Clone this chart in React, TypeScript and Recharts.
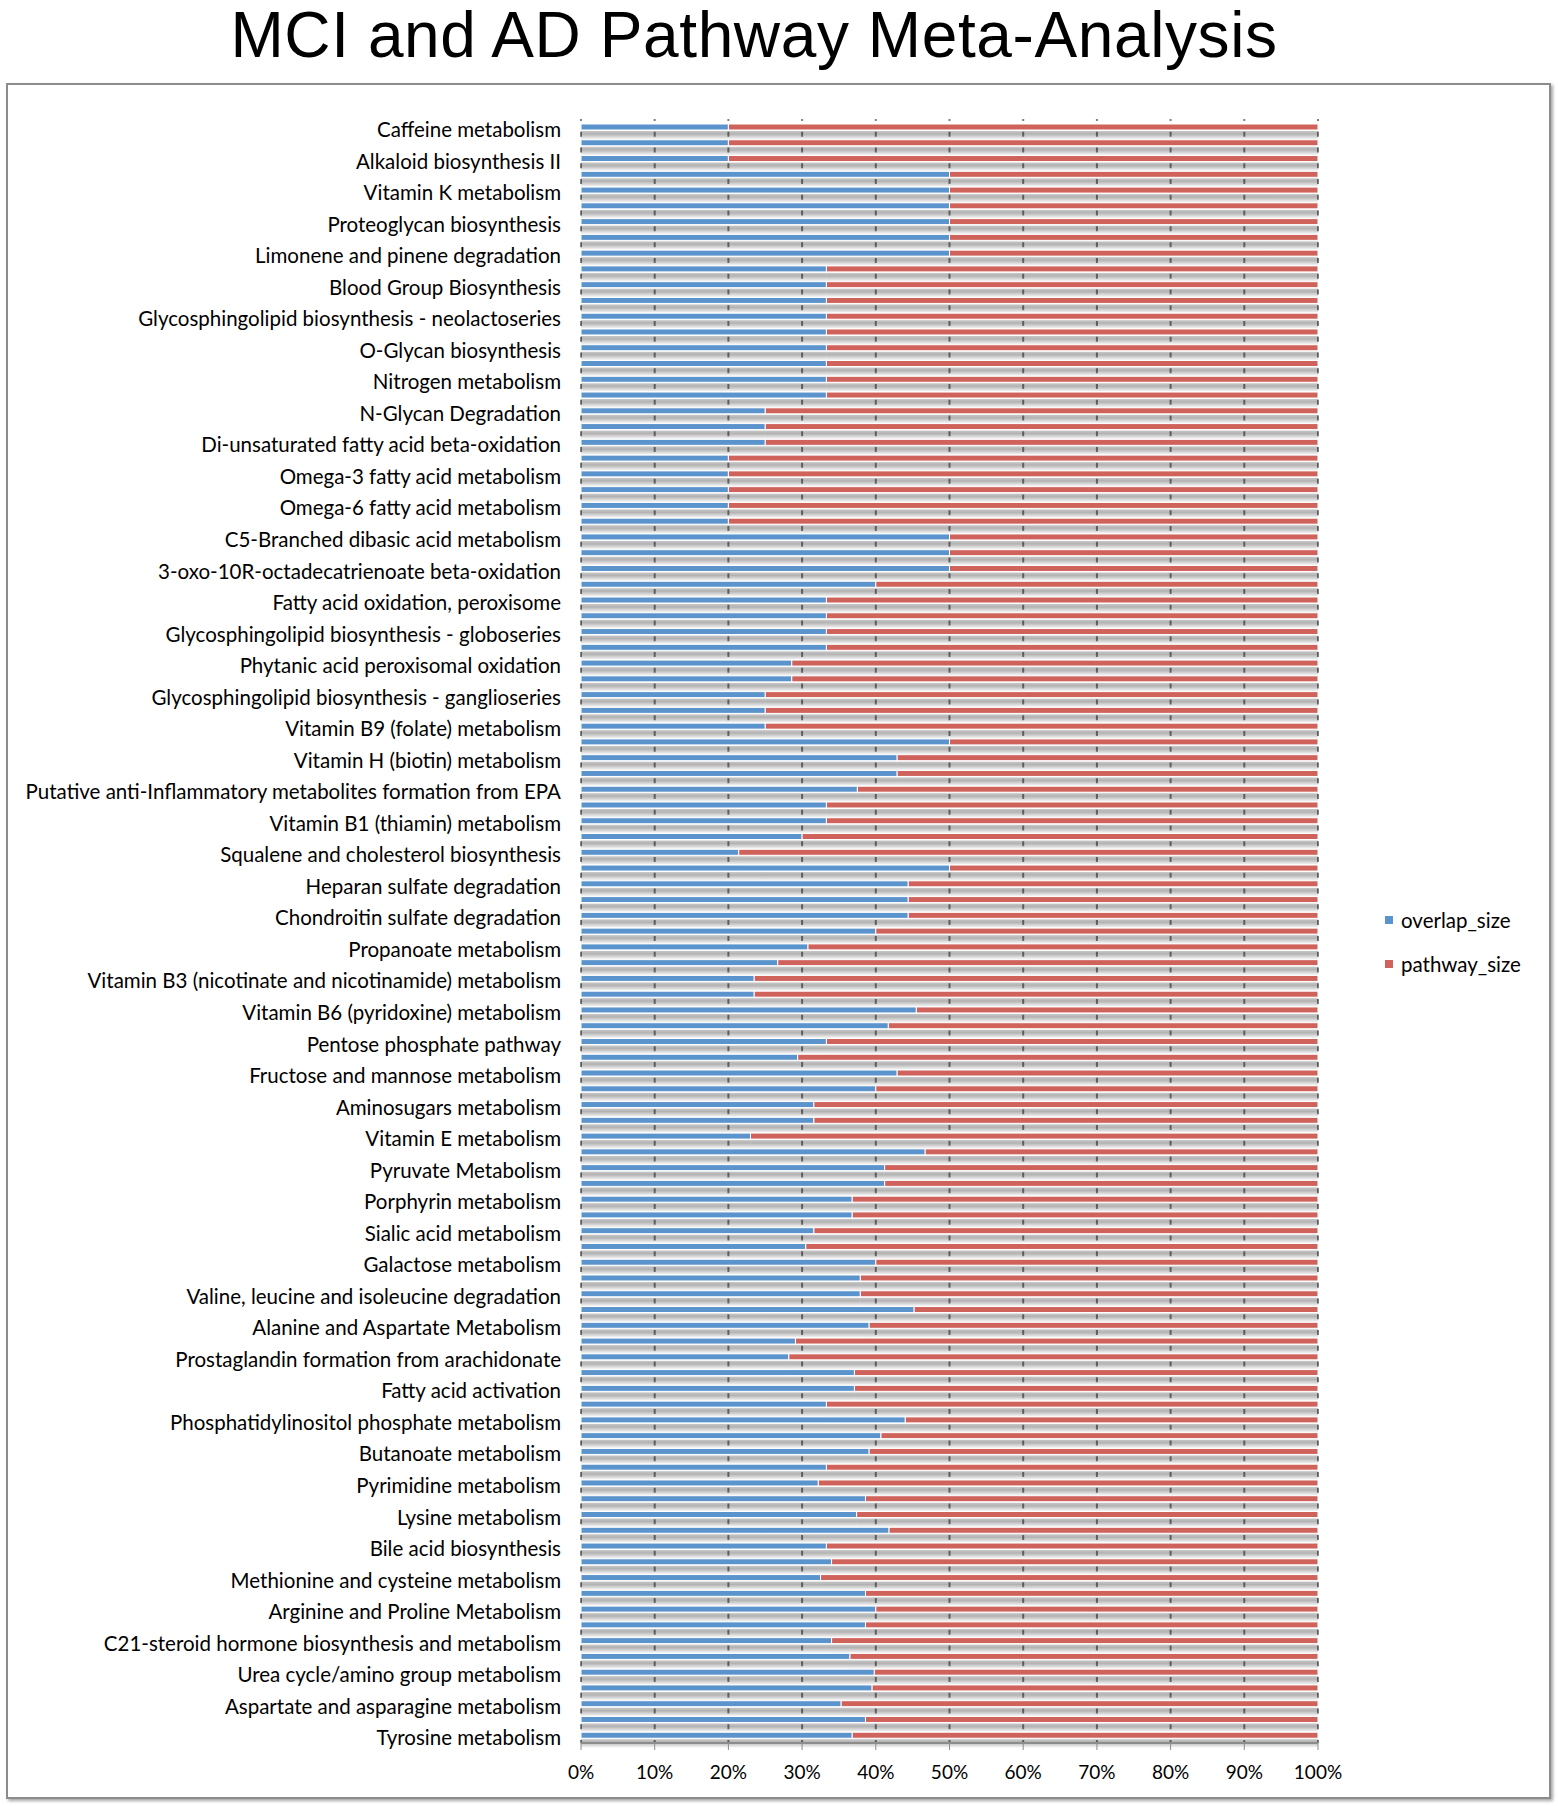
import { BarChart, Bar, XAxis, YAxis, CartesianGrid, Legend } from 'recharts';

// pathway names, shown on every other bar (top to bottom)
const pathwayLabels = [
  'Caffeine metabolism',
  'Alkaloid biosynthesis II',
  'Vitamin K metabolism',
  'Proteoglycan biosynthesis',
  'Limonene and pinene degradation',
  'Blood Group Biosynthesis',
  'Glycosphingolipid biosynthesis - neolactoseries',
  'O-Glycan biosynthesis',
  'Nitrogen metabolism',
  'N-Glycan Degradation',
  'Di-unsaturated fatty acid beta-oxidation',
  'Omega-3 fatty acid metabolism',
  'Omega-6 fatty acid metabolism',
  'C5-Branched dibasic acid metabolism',
  '3-oxo-10R-octadecatrienoate beta-oxidation',
  'Fatty acid oxidation, peroxisome',
  'Glycosphingolipid biosynthesis - globoseries',
  'Phytanic acid peroxisomal oxidation',
  'Glycosphingolipid biosynthesis - ganglioseries',
  'Vitamin B9 (folate) metabolism',
  'Vitamin H (biotin) metabolism',
  'Putative anti-Inflammatory metabolites formation from EPA',
  'Vitamin B1 (thiamin) metabolism',
  'Squalene and cholesterol biosynthesis',
  'Heparan sulfate degradation',
  'Chondroitin sulfate degradation',
  'Propanoate metabolism',
  'Vitamin B3 (nicotinate and nicotinamide) metabolism',
  'Vitamin B6 (pyridoxine) metabolism',
  'Pentose phosphate pathway',
  'Fructose and mannose metabolism',
  'Aminosugars metabolism',
  'Vitamin E metabolism',
  'Pyruvate Metabolism',
  'Porphyrin metabolism',
  'Sialic acid metabolism',
  'Galactose metabolism',
  'Valine, leucine and isoleucine degradation',
  'Alanine and Aspartate Metabolism',
  'Prostaglandin formation from arachidonate',
  'Fatty acid activation',
  'Phosphatidylinositol phosphate metabolism',
  'Butanoate metabolism',
  'Pyrimidine metabolism',
  'Lysine metabolism',
  'Bile acid biosynthesis',
  'Methionine and cysteine metabolism',
  'Arginine and Proline Metabolism',
  'C21-steroid hormone biosynthesis and metabolism',
  'Urea cycle/amino group metabolism',
  'Aspartate and asparagine metabolism',
  'Tyrosine metabolism',
];

// overlap share of each bar in %, top to bottom (pathway_size takes the rest)
const overlapShare = [
  20, 20, 20, 50, 50, 50, 50, 50, 50, 33.3,
  33.3, 33.3, 33.3, 33.3, 33.3, 33.3, 33.3, 33.3, 25, 25,
  25, 20, 20, 20, 20, 20, 50, 50, 50, 40,
  33.3, 33.3, 33.3, 33.3, 28.6, 28.6, 25, 25, 25, 50,
  42.9, 42.9, 37.5, 33.3, 33.3, 30, 21.4, 50, 44.4, 44.4,
  44.4, 40, 30.8, 26.7, 23.5, 23.5, 45.5, 41.7, 33.3, 29.4,
  42.9, 40, 31.6, 31.6, 23, 46.7, 41.2, 41.2, 36.8, 36.8,
  31.6, 30.5, 40, 37.9, 37.9, 45.2, 39.1, 29.1, 28.2, 37.1,
  37.1, 33.3, 44, 40.7, 39.1, 33.3, 32.2, 38.6, 37.4, 41.8,
  33.3, 34, 32.5, 38.6, 40, 38.6, 34, 36.5, 39.8, 39.5,
  35.3, 38.6, 36.8,
];

const pctTicks = [0, 0.1, 0.2, 0.3, 0.4, 0.5, 0.6, 0.7, 0.8, 0.9, 1];

const BLUE = '#5b93cc';
const RED = '#d0625c';
const FONT = 'Lato, "Open Sans", sans-serif';

const rows = overlapShare.map((p, i) => ({
  key: `row${i}`,
  label: i % 2 === 0 ? pathwayLabels[i / 2] : '',
  overlap_size: p,
  pathway_size: 100 - p,
}));

const boundaryTicks = rows.map((_, i) => i).concat(rows.length);

const ShadowBar = (props: any) => {
  const { x, y, width, height, fill } = props;
  if (!width || width <= 0) return null;
  return (
    <g>
      <rect x={x} y={y + height + 1} width={width} height={8.5} fill="url(#barShadow)" />
      <rect x={x} y={y} width={width} height={height} fill={fill} stroke="#ffffff" strokeWidth={1} />
    </g>
  );
};

const CategoryTick = (props: any) => {
  const { x, y, payload } = props;
  const row = rows[payload.index];
  if (!row || !row.label) return null;
  return (
    <text x={x} y={y + 3} dy="0.35em" textAnchor="end" fontSize={20.5} fontFamily={FONT} fill="#000">
      {row.label}
    </text>
  );
};

const LegendBox = () => (
  <div style={{ fontFamily: FONT, fontSize: 20.5, color: '#000' }}>
    {[
      { name: 'overlap_size', color: BLUE },
      { name: 'pathway_size', color: RED },
    ].map((item) => (
      <div key={item.name} style={{ display: 'flex', alignItems: 'center', height: 44 }}>
        <span style={{ width: 8, height: 8, background: item.color, marginRight: 8, display: 'inline-block' }} />
        {item.name}
      </div>
    ))}
  </div>
);

export default function App() {
  return (
    <div style={{ position: 'absolute', left: 0, top: 0, width: 1558, height: 1806, background: '#fff' }}>
      <svg width={0} height={0} style={{ position: 'absolute' }}>
        <defs>
          <linearGradient id="barShadow" x1="0" y1="0" x2="0" y2="1">
            <stop offset="0%" stopColor="#000" stopOpacity={0.22} />
            <stop offset="35%" stopColor="#000" stopOpacity={0.3} />
            <stop offset="100%" stopColor="#000" stopOpacity={0.02} />
          </linearGradient>
        </defs>
      </svg>
      <div
        style={{
          position: 'absolute',
          left: 0,
          top: 3,
          width: 1508,
          textAlign: 'center',
          fontFamily: '"Liberation Sans", Arial, sans-serif',
          fontSize: 64,
          letterSpacing: 0.6,
          lineHeight: '65px',
          color: '#000',
        }}
      >
        MCI and AD Pathway Meta-Analysis
      </div>
      <div
        style={{
          position: 'absolute',
          left: 6,
          top: 83,
          width: 1541,
          height: 1712,
          border: '2px solid #8c8c8c',
          boxShadow: '2px 2px 3px rgba(0,0,0,0.35)',
        }}
      />
      <div style={{ position: 'absolute', left: 0, top: 0 }}>
        <BarChart
          width={1558}
          height={1806}
          data={rows}
          layout="vertical"
          stackOffset="expand"
          barSize={6}
          margin={{ top: 119, right: 240, bottom: 23, left: 20 }}
        >
          <CartesianGrid horizontal={false} stroke="#7f7f7f" strokeWidth={2} strokeDasharray="2 10.767 3 0" />
          <XAxis
            type="number"
            domain={[0, 1]}
            ticks={pctTicks}
            tickFormatter={(v: number) => `${Math.round(v * 100)}%`}
            height={40}
            tickSize={7}
            tickMargin={16}
            stroke="#8c8c8c"
            axisLine={{ stroke: '#8c8c8c', strokeWidth: 2 }}
            tick={{ fill: '#000', fontSize: 19, fontFamily: FONT }}
          />
          <YAxis
            type="category"
            dataKey="key"
            width={561}
            interval={0}
            tickLine={false}
            axisLine={false}
            tickSize={0}
            tickMargin={20}
            tick={<CategoryTick />}
          />
          <YAxis
            yAxisId="bound"
            type="number"
            domain={[0, rows.length]}
            allowDataOverflow
            ticks={boundaryTicks}
            interval={0}
            width={0}
            tick={false}
            tickSize={7}
            stroke="#8c8c8c"
            axisLine={{ stroke: '#8c8c8c', strokeWidth: 2 }}
          />
          <Legend
            layout="horizontal"
            verticalAlign="middle"
            align="center"
            wrapperStyle={{ left: 1385, top: 898, width: 200, height: 90 }}
            content={() => <LegendBox />}
          />
          <Bar dataKey="overlap_size" stackId="a" fill={BLUE} shape={ShadowBar} isAnimationActive={false} />
          <Bar dataKey="pathway_size" stackId="a" fill={RED} shape={ShadowBar} isAnimationActive={false} />
        </BarChart>
      </div>
    </div>
  );
}
